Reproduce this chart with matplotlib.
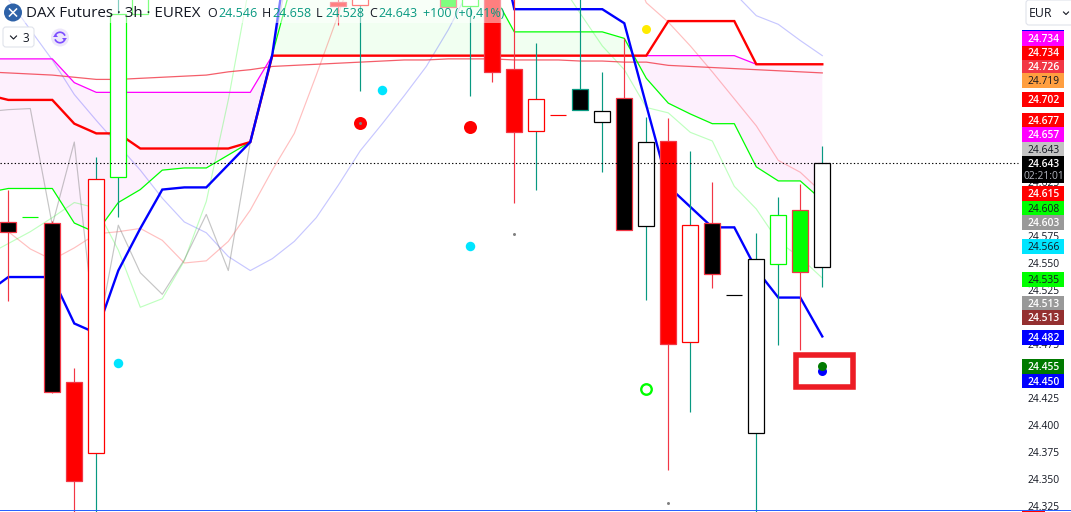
import matplotlib
matplotlib.use('Agg')
import matplotlib.pyplot as plt
from matplotlib.patches import Rectangle, FancyBboxPatch, Circle, Arc, Polygon
from matplotlib.transforms import Affine2D
import numpy as np

plt.rcParams['font.family'] = ['Open Sans', 'DejaVu Sans']

# Candles that are visible on screen (bar number, prices)
bar_ids = [0, 2, 3, 4, 5, 6, 15, 16, 20, 21, 22, 23, 24, 26, 27, 28, 29, 30, 31, 32, 34, 35, 36, 37]
body_top = [24.588, 24.587, 24.440, 24.628, 24.781, 24.830, 24.792, 24.830, 24.830, 24.830, 24.860, 24.730,
            24.702, 24.711, 24.691, 24.703, 24.662, 24.663, 24.585, 24.587, 24.554, 24.594, 24.599, 24.643]
body_bot = [24.579, 24.431, 24.348, 24.374, 24.630, 24.781, 24.788, 24.789, 24.787, 24.788, 24.727, 24.671,
            24.672, 24.692, 24.681, 24.581, 24.584, 24.475, 24.477, 24.540, 24.393, 24.549, 24.542, 24.546]
wick_high = [24.618, 24.589, 24.453, 24.648, 24.800, 24.840, 24.800, 24.840, 24.840, 24.840, 24.860, 24.840,
             24.754, 24.840, 24.727, 24.758, 24.685, 24.684, 24.654, 24.625, 24.578, 24.611, 24.623, 24.658]
wick_low = [24.515, 24.430, 24.319, 24.319, 24.593, 24.781, 24.770, 24.709, 24.787, 24.705, 24.718, 24.606,
            24.618, 24.692, 24.634, 24.581, 24.516, 24.358, 24.412, 24.527, 24.319, 24.474, 24.469, 24.528]
body_fill = ['black', 'black', 'red', 'white', 'white', 'white', 'red', 'white', 'lime', 'white', 'red', 'red',
             'white', 'black', 'white', 'black', 'white', 'red', 'white', 'black', 'white', 'white', 'lime', 'white']
body_edge = ['#f23645', '#f23645', '#f23645', 'red', 'lime', 'lime', '#f23645', 'red', '#f23645', 'lime', '#f23645', '#f23645',
             'red', '#089981', 'black', '#f23645', 'black', '#f23645', 'red', '#f23645', 'black', 'lime', '#f23645', 'black']
wick_color = ['#f23645', '#f23645', '#f23645', '#089981', '#089981', '#089981', '#f23645', '#089981', '#f23645', '#089981', '#f23645', '#f23645',
              '#089981', '#089981', '#089981', '#f23645', '#089981', '#f23645', '#089981', '#f23645', '#089981', '#089981', '#f23645', '#089981']

# Flat bars, drawn as a dash only
dash_ids = [1, 25, 33]
dash_price = [24.593, 24.687, 24.520]
dash_color = ['lime', 'red', 'black']

# Indicator lines, one value per bar from bar -1 to bar 37
line_ids = np.arange(-1, 38)
blue_line = [24.522, 24.537, 24.537, 24.537, 24.494, 24.485, 24.543, 24.582, 24.618, 24.620, 24.620, 24.641, 24.662,
             24.743, 24.882, 24.890, 24.890, 24.890, 24.890, 24.890, 24.890, 24.890, 24.890, 24.877, 24.785, 24.785,
             24.785, 24.785, 24.785, 24.772, 24.696, 24.621, 24.602, 24.583, 24.583, 24.544, 24.518, 24.518, 24.482]
green_line = [24.615, 24.619, 24.619, 24.619, 24.587, 24.578, 24.606, 24.618, 24.636, 24.638, 24.638, 24.650, 24.662,
              24.743, 24.818, 24.849, 24.849, 24.849, 24.849, 24.849, 24.849, 24.849, 24.849, 24.801, 24.764, 24.764,
              24.764, 24.764, 24.764, 24.758, 24.721, 24.698, 24.688, 24.679, 24.679, 24.639, 24.626, 24.626, 24.608]
red_line = [24.706, 24.701, 24.701, 24.701, 24.679, 24.670, 24.670, 24.656, 24.656, 24.656, 24.656, 24.656, 24.662,
            24.742, 24.742, 24.742, 24.742, 24.742, 24.742, 24.742, 24.742, 24.742, 24.742, 24.742, 24.742, 24.742,
            24.742, 24.742, 24.742, 24.742, 24.742, 24.774, 24.774, 24.774, 24.774, 24.734, 24.734, 24.734, 24.734]
magenta_line = [24.739, 24.739, 24.739, 24.739, 24.717, 24.708, 24.708, 24.708, 24.708, 24.708, 24.708, 24.708, 24.708,
                24.742, 24.742, 24.742, 24.742, 24.742, 24.742, 24.742, 24.742, 24.742, 24.742, 24.742, 24.742, 24.742,
                24.742, 24.742, 24.742, 24.742, 24.742, 24.742, 24.742, 24.742, 24.742, 24.734, 24.734, 24.734, 24.734]
slow_red_line = [24.727, 24.726, 24.725, 24.724, 24.722, 24.720, 24.720, 24.721, 24.722, 24.723, 24.724, 24.727, 24.729,
                 24.732, 24.733, 24.734, 24.735, 24.736, 24.737, 24.738, 24.738, 24.739, 24.739, 24.739, 24.738, 24.738,
                 24.738, 24.737, 24.737, 24.736, 24.736, 24.733, 24.732, 24.731, 24.730, 24.729, 24.728, 24.727, 24.726]
lavender_line = [24.820, 24.794, 24.766, 24.738, 24.706, 24.682, 24.659, 24.636, 24.610, 24.588, 24.578, 24.556, 24.543,
                 24.554, 24.570, 24.592, 24.622, 24.654, 24.679, 24.705, 24.732, 24.766, 24.805, 24.850, 24.850, 24.850,
                 24.850, 24.850, 24.850, 24.850, 24.850, 24.850, 24.850, 24.850, 24.800, 24.779, 24.771, 24.756, 24.742]
salmon_line = [24.594, 24.579, 24.563, 24.553, 24.564, 24.577, 24.579, 24.582, 24.571, 24.550, 24.552, 24.570, 24.599,
               24.636, 24.670, 24.724, 24.780, 24.840, 24.840, 24.840, 24.840, 24.840, 24.840, 24.840, 24.840, 24.840,
               24.840, 24.840, 24.840, 24.840, 24.791, 24.773, 24.751, 24.727, 24.702, 24.677, 24.645, 24.634, 24.615]
pale_green_line = [24.557, 24.568, 24.579, 24.592, 24.606, 24.601, 24.562, 24.509, 24.517, 24.552, 24.607, 24.701, 24.812,
                   24.850, 24.850, 24.850, 24.850, 24.850, 24.850, 24.850, 24.850, 24.850, 24.850, 24.850, 24.850, 24.850,
                   24.812, 24.781, 24.751, 24.729, 24.694, 24.689, 24.671, 24.663, 24.621, 24.600, 24.570, 24.555, 24.536]
gray_ids = np.arange(-1, 14)
gray_line = [24.690, 24.692, 24.693, 24.585, 24.662, 24.476, 24.585, 24.541, 24.521, 24.553, 24.595, 24.543, 24.662, 24.743, 24.850]

# Signal dots
cyan_ids, cyan_price = [5, 17, 21], [24.457, 24.710, 24.566]
red_dot_ids, red_dot_price = [16, 21], [24.680, 24.676]
gray_dot_ids, gray_dot_price = [16, 23, 30], [24.680, 24.577, 24.328]
yellow_ids, yellow_price = [29], [24.767]
ring_ids, ring_price = [29], [24.433]
dark_green_ids, dark_green_price = [37], [24.455]
blue_dot_ids, blue_dot_price = [37], [24.450]

# Price axis
tick_prices = [24.325, 24.350, 24.375, 24.400, 24.425, 24.475, 24.525, 24.550, 24.575, 24.625]
label_texts = ['24.734', '24.734', '24.726', '24.719', '24.702', '24.677', '24.657', '24.643', '24.615', '24.608',
               '24.603', '24.566', '24.535', '24.513', '24.513', '24.482', '24.455', '24.450']
label_fill = ['#ff00ff', '#ff0000', '#f23645', '#ff9f40', '#ff0000', '#ff0000', '#ff00ff', '#c3c3c3', '#ff0000', '#00ff00',
              '#999999', '#00e5ff', '#00ff00', '#999999', '#943030', '#0000ff', '#007a00', '#0000ff']
label_ink = ['white', 'white', 'white', '#131722', 'white', 'white', 'white', '#131722', 'white', '#131722',
             'white', '#131722', '#131722', 'white', 'white', 'white', 'white', 'white']
label_top_px = [31, 45.7, 59.7, 73.3, 92, 113.3, 127.3, 142, 186, 201, 215.3, 239, 272, 296, 310.3, 330, 359, 373.7]
label_bot_px = [45.7, 59.7, 73.3, 87.7, 106.7, 127.3, 142, 156, 201, 215.3, 230, 254, 286.7, 310.3, 324.7, 344.7, 373.7, 388]

TEAL = '#089981'
W, H = 1071, 512
BAR_PX = 22.0
BAR0_PX = 8.3
PX_PER_PRICE = 1080.0
PRICE_AT_TOP = 24.325 + 506 / PX_PER_PRICE
TAG_FONT = 7.4
TAG_X = 1044
TEXT_DY = 1.3  # va='center' sits a little high for digits

fig = plt.figure(figsize=(W / 100, H / 100), dpi=100)
ax = fig.add_axes([0, 0, 1, 1])
ax.set_xlim(-BAR0_PX / BAR_PX, (W - BAR0_PX) / BAR_PX)
ax.set_ylim(PRICE_AT_TOP - H / PX_PER_PRICE, PRICE_AT_TOP)
ax.axis('off')

# Chrome is placed in image pixels, origin top left
pix = Affine2D().scale(1, -1).translate(0, H)

# Cloud between the magenta and the green line
green_arr = np.array(green_line)
magenta_arr = np.array(magenta_line)
ax.fill_between(line_ids, magenta_arr, green_arr, where=green_arr < magenta_arr, interpolate=True,
                color='#fdf0fd', linewidth=0, zorder=1)
ax.fill_between(line_ids, magenta_arr, green_arr, where=green_arr >= magenta_arr, interpolate=True,
                color='#f1fff1', linewidth=0, zorder=1)

# Faint lines
ax.plot(line_ids, lavender_line, color='#0000ff', alpha=0.22, lw=0.85, zorder=2)
ax.plot(line_ids, salmon_line, color='#ff0000', alpha=0.25, lw=0.85, zorder=2)
ax.plot(line_ids, pale_green_line, color='#00ff00', alpha=0.25, lw=0.85, zorder=2)
ax.plot(gray_ids, gray_line, color='#808080', alpha=0.45, lw=0.85, zorder=2)

# Strong lines
ax.plot(line_ids, slow_red_line, color='#f23645', alpha=0.8, lw=0.9, zorder=3)
ax.plot(line_ids, magenta_line, color='#ff00ff', lw=0.9, zorder=3)
ax.plot(line_ids, green_line, color='#00ff00', lw=0.9, zorder=3)
ax.plot(line_ids, red_line, color='#ff0000', lw=1.7, zorder=3, solid_joinstyle='miter')
ax.plot(line_ids, blue_line, color='#0000ff', lw=1.7, zorder=3, solid_joinstyle='miter')

# Candles
ax.vlines(bar_ids, wick_low, wick_high, colors=wick_color, lw=0.85, zorder=4)
tops = np.array(body_top)
bots = np.array(body_bot)
ax.bar(np.array(bar_ids) - 0.01, tops - bots, bottom=bots, width=16 / BAR_PX, color=body_fill, edgecolor=body_edge,
       linewidth=0.9, zorder=5)
ax.hlines(dash_price, np.array(dash_ids) - 8 / BAR_PX, np.array(dash_ids) + 8 / BAR_PX, colors=dash_color, lw=0.85, zorder=5)

# Current price line
ax.plot([-BAR0_PX / BAR_PX, (1018 - BAR0_PX) / BAR_PX], [24.643, 24.643], color='black', lw=0.8,
        linestyle=(0, (1.2, 2.0)), zorder=6)


# Dots, diameter given in pixels
def dots(ids, prices, diameter, **kw):
    ax.scatter(ids, prices, s=(diameter * 0.72) ** 2, linewidths=0, zorder=7, **kw)


dots(cyan_ids, cyan_price, 9.5, color='#00e5ff')
dots(red_dot_ids, red_dot_price, 13, color='#ff0000')
dots(gray_dot_ids, gray_dot_price, 3, color='#808080')
dots(yellow_ids, yellow_price, 9, color='#ffeb00')
ax.scatter(ring_ids, ring_price, s=(10.5 * 0.72) ** 2, facecolor='white', edgecolor='#00ff00', linewidths=1.7, zorder=7)
dots(blue_dot_ids, blue_dot_price, 9, color='#0000ff')
dots(dark_green_ids, dark_green_price, 9, color='#007a00')

# Highlight box drawn over the last bars
ax.add_patch(Rectangle((35.8, 24.435), 38.4 - 35.8, 24.465 - 24.435, facecolor='none', edgecolor='#ed1c24',
                       linewidth=4.0, joinstyle='miter', zorder=8))

# Legend background fades what runs behind the text
ax.add_patch(Rectangle((0, 0), 503, 23, facecolor='white', alpha=0.5, linewidth=0, transform=pix, zorder=9))


def label(x, y, text, color='#131722', size=9.2, ha='left', z=12, **kw):
    ax.text(x, y + TEXT_DY, text, color=color, fontsize=size, ha=ha, va='center', transform=pix, zorder=z, **kw)


# Symbol logo
ax.add_patch(Circle((13, 12.5), 9, facecolor='#2e62a8', linewidth=0, transform=pix, zorder=11))
ax.plot([9.5, 16.5], [9, 16], color='white', lw=1.1, transform=pix, zorder=12)
ax.plot([9.5, 16.5], [16, 9], color='white', lw=1.1, transform=pix, zorder=12)

# Legend text
label(26, 12.5, 'DAX Futures · 3h · EUREX', size=10.9)
for x, text, ink in [(207, 'O', '#131722'), (218, '24.546', TEAL), (262, 'H', '#131722'), (272, '24.658', TEAL),
                     (316, 'L', '#131722'), (325, '24.528', TEAL), (369, 'C', '#131722'), (378, '24.643', TEAL),
                     (423, '+100 (+0,41%)', TEAL)]:
    label(x, 12.5, text, color=ink, size=9.0)

# Interval button and refresh icon
ax.add_patch(FancyBboxPatch((5, 29), 27, 16, boxstyle='round,pad=2,rounding_size=3', facecolor='white',
                            edgecolor='#e0e3eb', linewidth=0.8, transform=pix, zorder=11))
ax.plot([10.5, 13.5, 16.5], [36, 39, 36], color='#131722', lw=0.8, transform=pix, zorder=12)
label(26, 37, '3', ha='center', size=8.5)
ax.add_patch(Circle((60, 37.5), 9, facecolor='#ede7fb', linewidth=0, transform=pix, zorder=11))
ax.add_patch(Arc((60, 37.5), 10.5, 10.5, theta1=20, theta2=160, edgecolor='#7c4dff', lw=1.2, transform=pix, zorder=12))
ax.add_patch(Arc((60, 37.5), 10.5, 10.5, theta1=200, theta2=340, edgecolor='#7c4dff', lw=1.2, transform=pix, zorder=12))
ax.add_patch(Polygon([(53, 37), (58, 37), (55.5, 34)], facecolor='#7c4dff', linewidth=0, transform=pix, zorder=12))
ax.add_patch(Polygon([(62, 38), (67, 38), (64.5, 41)], facecolor='#7c4dff', linewidth=0, transform=pix, zorder=12))

# Currency button
ax.add_patch(FancyBboxPatch((1028, 2), 60, 21, boxstyle='round,pad=2,rounding_size=3', facecolor='white',
                            edgecolor='#e0e3eb', linewidth=0.8, transform=pix, zorder=11))
label(1029, 12, 'EUR', size=8.8)
ax.plot([1063.5, 1066, 1068.5], [12, 14.5, 12], color='#131722', lw=0.8, transform=pix, zorder=12)

# Price scale: ticks first, tags drawn over them
for price in tick_prices:
    label(TAG_X, (PRICE_AT_TOP - price) * PX_PER_PRICE, f'{price:.3f}', size=TAG_FONT, ha='center')

ax.add_patch(Rectangle((1022, 29.5), 42, 2, facecolor='#0000ff', linewidth=0, transform=pix, zorder=13))
for text, fill, ink, top, bot in zip(label_texts, label_fill, label_ink, label_top_px, label_bot_px):
    ax.add_patch(Rectangle((1022, top), 42, bot - top, facecolor=fill, linewidth=0, transform=pix, zorder=13))
    label(TAG_X, (top + bot) / 2, text, color=ink, size=TAG_FONT, ha='center', z=14,
          fontweight='semibold' if ink == 'white' else 'normal')

# Last price tag with countdown
ax.add_patch(Rectangle((1022, 156), 42, 27, facecolor='black', linewidth=0, transform=pix, zorder=13))
label(TAG_X, 163.5, '24.643', color='white', size=TAG_FONT, ha='center', z=14, fontweight='semibold')
label(TAG_X, 175.5, '02:21:01', color='#b2b5be', size=TAG_FONT, ha='center', z=14)

# Bottom border of the pane
ax.add_patch(Rectangle((0, 510), W, 1, facecolor='#2962ff', linewidth=0, transform=pix, zorder=15))
ax.add_patch(Rectangle((1022, 511), 23, 1, facecolor='#ff0000', linewidth=0, transform=pix, zorder=15))

fig.savefig('out.png', dpi=100, facecolor='white')
